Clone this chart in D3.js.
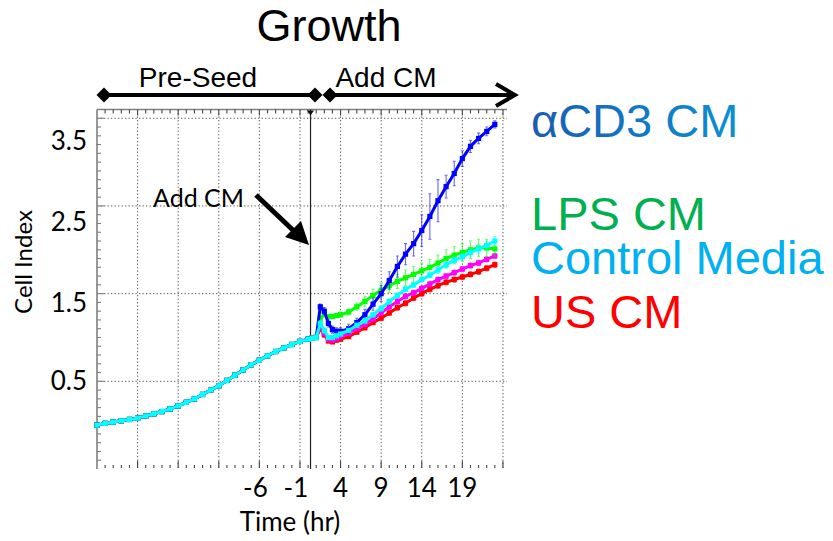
<!DOCTYPE html>
<html>
<head>
<meta charset="utf-8">
<title>Growth</title>
<script src="https://d3js.org/d3.v7.min.js"></script>
<style>
  body { margin: 0; background: #fff; }
</style>
</head>
<body>
<div id="mychart"></div>
<script>
// pre-seed part, all wells the same
var preTimes  = [-26,-25,-24,-23,-22,-21,-20,-19,-18,-17,-16,-15,-14,-13,-12,-11,-10,-9,-8,-7,-6,-5,-4,-3,-2,-1,0];
var preValues = [0.50,0.52,0.535,0.55,0.565,0.58,0.605,0.63,0.655,0.685,0.72,0.76,0.80,0.85,0.90,0.95,1.01,1.07,1.13,1.19,1.24,1.29,1.34,1.38,1.42,1.455,1.48];

// after adding conditioned media
var postTimes = [0.5,1,1.5,2,2.5,3,3.5,4,5,6,7,8,9,10,11,12,13,14,15,16,17,18,19,20,21,22,23];
var cd3Values = [1.49,1.50,1.85,1.80,1.66,1.59,1.57,1.57,1.60,1.67,1.76,1.88,2.00,2.15,2.31,2.45,2.57,2.72,2.88,3.06,3.22,3.37,3.54,3.68,3.77,3.85,3.93];
var cd3Err    = [0,0,0.03,0.04,0.04,0.04,0.04,0.04,0.05,0.05,0.06,0.07,0.09,0.10,0.12,0.12,0.14,0.18,0.26,0.24,0.13,0.14,0.09,0.07,0.06,0.05,0.04];
var lpsValues = [1.49,1.50,1.72,1.76,1.74,1.74,1.75,1.76,1.79,1.85,1.91,1.98,2.04,2.09,2.14,2.18,2.22,2.26,2.30,2.35,2.40,2.44,2.47,2.50,2.52,2.52,2.51];
var lpsErr    = [0,0,0.02,0.02,0.02,0.02,0.02,0.03,0.03,0.04,0.06,0.07,0.08,0.08,0.08,0.09,0.09,0.09,0.09,0.09,0.1,0.1,0.1,0.1,0.1,0.1,0.08];
var ctlValues = [1.49,1.50,1.66,1.58,1.50,1.50,1.52,1.54,1.58,1.64,1.69,1.76,1.83,1.91,1.98,2.05,2.10,2.16,2.21,2.27,2.33,2.38,2.42,2.47,2.51,2.55,2.60];
var ctlErr    = [0,0,0.03,0.03,0.02,0.02,0.02,0.02,0.02,0.02,0.03,0.03,0.03,0.03,0.03,0.03,0.03,0.03,0.03,0.04,0.04,0.04,0.04,0.04,0.05,0.05,0.05];
var magValues = [1.49,1.50,1.62,1.55,1.48,1.47,1.49,1.51,1.55,1.60,1.65,1.71,1.78,1.85,1.91,1.97,2.01,2.06,2.11,2.16,2.20,2.24,2.28,2.32,2.35,2.39,2.43];
var magErr    = [0,0,0.02,0.02,0.02,0.02,0.02,0.02,0.02,0.02,0.02,0.02,0.02,0.03,0.03,0.03,0.03,0.03,0.03,0.03,0.03,0.03,0.03,0.03,0.03,0.03,0.03];
var usValues  = [1.49,1.50,1.60,1.53,1.46,1.45,1.47,1.48,1.51,1.56,1.61,1.67,1.72,1.78,1.84,1.89,1.95,2.00,2.05,2.09,2.13,2.16,2.19,2.22,2.25,2.29,2.33];
var usErr     = [0,0,0.02,0.02,0.02,0.02,0.02,0.02,0.02,0.02,0.02,0.02,0.03,0.03,0.03,0.03,0.03,0.03,0.03,0.03,0.03,0.03,0.03,0.03,0.03,0.03,0.03];

var addTime = 0.3;

// tick labels as printed on the slide
var xTickLabels = [-6, -1, 4, 9, 14, 19];
var yTickLabels = ["0.5", "1.5", "2.5", "3.5"];
var yTickAt     = [1.01, 1.9, 2.82, 3.75];

var legendNames  = ["αCD3 CM", "LPS CM", "Control Media", "US CM"];
var legendColors = ["url(#cd3grad)", "#00b050", "#00b0f0", "#ff0000"];

var width = 833, height = 541;

var svg = d3.select("#mychart").append("svg")
    .attr("width", width)
    .attr("height", height)
    .style("display", "block");

var defs = svg.append("defs");
var grad = defs.append("linearGradient").attr("id", "cd3grad")
    .attr("x1", "0").attr("x2", "1").attr("y1", "0").attr("y2", "0");
grad.append("stop").attr("offset", "0").attr("stop-color", "#1b5db0");
grad.append("stop").attr("offset", "1").attr("stop-color", "#0a90d4");

var x = d3.scaleLinear().domain([-26, 24.5]).range([97, 507]);
var y = d3.scaleLinear().domain([0, 4.1]).range([469, 109.5]);

// grid
var grid = svg.append("g");
grid.selectAll(".vg").data(d3.range(-21, 25, 5)).enter().append("line")
    .attr("x1", function(d) { return x(d); }).attr("x2", function(d) { return x(d); })
    .attr("y1", y(4.1)).attr("y2", y(0))
    .attr("stroke", "#555").attr("stroke-width", 1).attr("stroke-dasharray", "1.3,2.2");
grid.selectAll(".hg").data([1, 2, 3, 4]).enter().append("line")
    .attr("x1", x(-26)).attr("x2", x(24.5))
    .attr("y1", function(d) { return y(d); }).attr("y2", function(d) { return y(d); })
    .attr("stroke", "#555").attr("stroke-width", 1).attr("stroke-dasharray", "1.3,2.2");

// axes frame: left + top lines, ticks inside
svg.append("line").attr("x1", x(-26)).attr("x2", x(-26)).attr("y1", y(4.1)).attr("y2", y(0))
    .attr("stroke", "#7f7f7f").attr("stroke-width", 1.6);
svg.append("line").attr("x1", x(-26)).attr("x2", x(24.5)).attr("y1", y(4.1)).attr("y2", y(4.1))
    .attr("stroke", "#7f7f7f").attr("stroke-width", 1.6);

var hrTicks = d3.range(-25, 25, 1);
svg.append("g").selectAll("line").data(hrTicks).enter().append("line")
    .attr("x1", function(d) { return x(d); }).attr("x2", function(d) { return x(d); })
    .attr("y1", y(4.1)).attr("y2", function(d) { return y(4.1) + ((d + 26) % 5 == 0 ? 6 : 4); })
    .attr("stroke", "#444").attr("stroke-width", 1.1);
svg.append("g").selectAll("line").data(hrTicks).enter().append("line")
    .attr("x1", function(d) { return x(d); }).attr("x2", function(d) { return x(d); })
    .attr("y1", y(0) - 1).attr("y2", function(d) { return y(0) - 1 - ((d + 26) % 5 == 0 ? 7 : 3); })
    .attr("stroke", "#444").attr("stroke-width", 1.1);
svg.append("g").selectAll("line").data(d3.range(1, 41)).enter().append("line")
    .attr("x1", x(-26)).attr("x2", function(d) { return x(-26) + (d % 10 == 0 ? 7 : 4); })
    .attr("y1", function(d) { return y(d / 10); }).attr("y2", function(d) { return y(d / 10); })
    .attr("stroke", "#7f7f7f").attr("stroke-width", 1.1);

// add CM marker line
svg.append("line").attr("x1", x(addTime)).attr("x2", x(addTime)).attr("y1", y(4.1)).attr("y2", y(0))
    .attr("stroke", "#222").attr("stroke-width", 1.2);
svg.append("path")
    .attr("d", "M" + (x(addTime) - 3.5) + "," + (y(4.1) + 1) + "h7l-3.5,5z")
    .attr("fill", "#111");

// series
var series = [
  { values: usValues,  err: usErr,  color: "#ff0000" },
  { values: magValues, err: magErr, color: "#ff00ff" },
  { values: lpsValues, err: lpsErr, color: "#00ff00" },
  { values: cd3Values, err: cd3Err, color: "#0000ff" },
  { values: ctlValues, err: ctlErr, color: "#00ffff" }
];

var line = d3.line()
    .x(function(d) { return x(d.t); })
    .y(function(d) { return y(d.v); });

series.forEach(function(s) {
  var pts = preTimes.map(function(t, i) { return { t: t, v: preValues[i], e: 0 }; })
      .concat(postTimes.map(function(t, i) { return { t: t, v: s.values[i], e: s.err[i] }; }));
  var g = svg.append("g");

  g.selectAll(".eb").data(pts.filter(function(d) { return d.e > 0; })).enter().append("path")
      .attr("d", function(d) {
        var cx = x(d.t), y0 = y(d.v - d.e), y1 = y(d.v + d.e);
        return "M" + cx + "," + y0 + "V" + y1 + "M" + (cx - 1.5) + "," + y0 + "h3M" + (cx - 1.5) + "," + y1 + "h3";
      })
      .attr("stroke", s.color).attr("stroke-opacity", 0.6).attr("stroke-width", 1.1).attr("fill", "none");

  g.append("path").datum(pts)
      .attr("d", line)
      .attr("fill", "none").attr("stroke", s.color).attr("stroke-width", 3);

  g.selectAll("rect").data(pts).enter().append("rect")
      .attr("x", function(d) { return x(d.t) - 2.6; })
      .attr("y", function(d) { return y(d.v) - 2.6; })
      .attr("width", 5.2).attr("height", 5.2)
      .attr("fill", s.color);
});

// tick labels
svg.append("g").selectAll("text").data(xTickLabels).enter().append("text")
    .attr("x", function(d) { return x(d) - (d < 0 ? 4 : 0); })
    .attr("y", 497)
    .attr("text-anchor", "middle")
    .style("font-family", "Lato, 'Open Sans', sans-serif").style("font-size", "26px")
    .text(function(d) { return d; });

svg.append("g").selectAll("text").data(yTickLabels).enter().append("text")
    .attr("x", 87)
    .attr("y", function(d, i) { return y(yTickAt[i]); })
    .attr("dy", "0.36em")
    .attr("text-anchor", "end")
    .style("font-family", "Lato, 'Open Sans', sans-serif").style("font-size", "26px")
    .text(function(d) { return d; });

svg.append("text")
    .attr("transform", "translate(32,262) rotate(-90)")
    .attr("text-anchor", "middle")
    .style("font-family", "Lato, 'Open Sans', sans-serif").style("font-size", "24px")
    .text("Cell Index");

svg.append("text")
    .attr("x", 290).attr("y", 531)
    .attr("text-anchor", "middle")
    .style("font-family", "Lato, 'Open Sans', sans-serif").style("font-size", "26px")
    .text("Time (hr)");

// title + phase arrows
svg.append("text")
    .attr("x", 329).attr("y", 41)
    .attr("text-anchor", "middle")
    .style("font-family", "'Liberation Sans', Arial, sans-serif").style("font-size", "45px")
    .text("Growth");

svg.append("text").attr("x", 198).attr("y", 87).attr("text-anchor", "middle")
    .style("font-family", "'Liberation Sans', Arial, sans-serif").style("font-size", "28px")
    .text("Pre-Seed");
svg.append("text").attr("x", 386).attr("y", 87).attr("text-anchor", "middle")
    .style("font-family", "'Liberation Sans', Arial, sans-serif").style("font-size", "28px")
    .text("Add CM");

var ay = 95;
function diamond(cx) {
  svg.append("path").attr("d", "M" + (cx - 7.5) + "," + ay + "L" + cx + "," + (ay - 7.5) + "L" + (cx + 7.5) + "," + ay + "L" + cx + "," + (ay + 7.5) + "Z")
      .attr("fill", "#000");
}
svg.append("line").attr("x1", 104).attr("x2", 315).attr("y1", ay).attr("y2", ay).attr("stroke", "#000").attr("stroke-width", 4);
svg.append("line").attr("x1", 330).attr("x2", 514).attr("y1", ay).attr("y2", ay).attr("stroke", "#000").attr("stroke-width", 4);
diamond(104); diamond(315); diamond(330);
svg.append("path").attr("d", "M496,84L515,95L496,106")
    .attr("fill", "none").attr("stroke", "#000").attr("stroke-width", 4).attr("stroke-linejoin", "miter");

// "Add CM" call-out
svg.append("text").attr("x", 153).attr("y", 207)
    .style("font-family", "Lato, 'Open Sans', sans-serif").style("font-size", "25px")
    .text("Add CM");
svg.append("line").attr("x1", 256).attr("y1", 195).attr("x2", 296).attr("y2", 233)
    .attr("stroke", "#000").attr("stroke-width", 5);
svg.append("path").attr("d", "M309,245L285,237L301,221Z").attr("fill", "#000");

// coloured labels on the right
svg.append("g").selectAll("text").data(legendNames).enter().append("text")
    .attr("x", 531)
    .attr("y", function(d, i) { return [137, 230, 274, 328][i]; })
    .attr("fill", function(d, i) { return legendColors[i]; })
    .style("font-family", "'Liberation Sans', Arial, sans-serif").style("font-size", "47px")
    .text(function(d) { return d; });
</script>
</body>
</html>
